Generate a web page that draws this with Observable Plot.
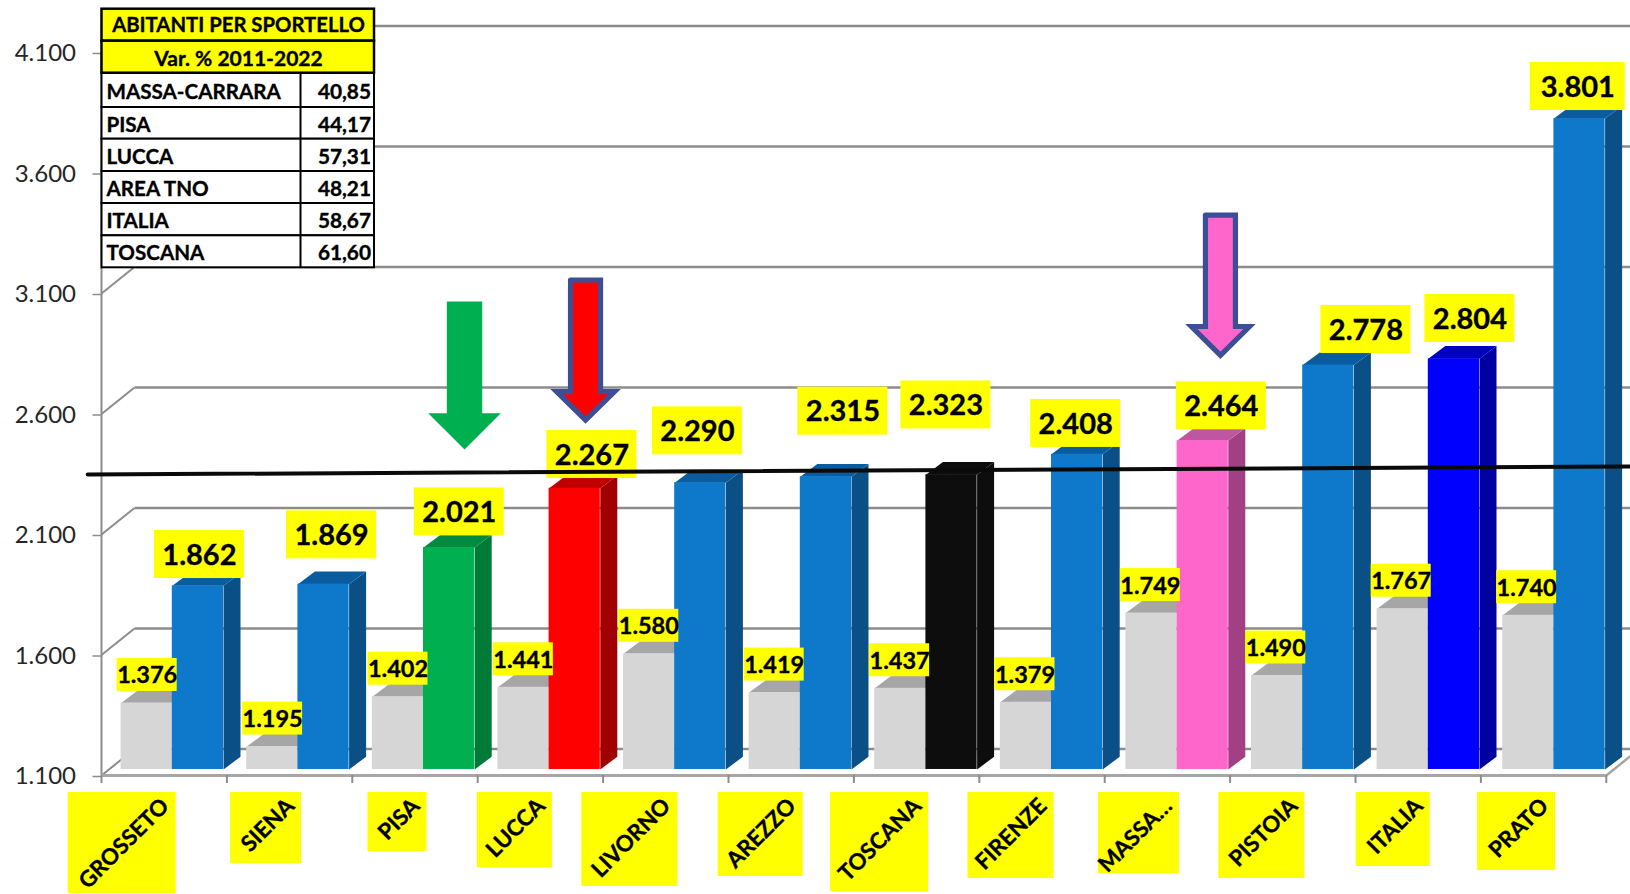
<!DOCTYPE html>
<html><head><meta charset="utf-8">
<script src="https://cdn.jsdelivr.net/npm/d3@7"></script>
<script src="https://cdn.jsdelivr.net/npm/@observablehq/plot@0.6"></script>
<style>html,body{margin:0;padding:0;background:#fff;overflow:hidden}svg{display:block}</style>
</head><body><div id="c"></div>
<script>
// ---- data ----
const categories = ["GROSSETO","SIENA","PISA","LUCCA","LIVORNO","AREZZO","TOSCANA","FIRENZE","MASSA…","PISTOIA","ITALIA","PRATO"];
const values2011 = [1376,1195,1402,1441,1580,1419,1437,1379,1749,1490,1767,1740];
const values2022 = [1862,1869,2021,2267,2290,2315,2323,2408,2464,2778,2804,3801];
const yTicks = [1100,1600,2100,2600,3100,3600,4100];
const tableTitle = "ABITANTI PER SPORTELLO";
const tableSubtitle = "Var. % 2011-2022";
const tableNames = ["MASSA-CARRARA","PISA","LUCCA","AREA TNO","ITALIA","TOSCANA"];
const tableValues = ["40,85","44,17","57,31","48,21","58,67","61,60"];
const refLineX = [-0.11, 12.193];
const refLineV = [2349, 2382];

// ---- per-bar styling ----
const blue = ["#0e78ca","#0a4f85","#0b5c9e"];
const palette = {GREEN:["#00b050","#007a37","#008a3f"],RED:["#ff0000","#a00000","#c00000"],BLACK:["#0d0d0d","#0d0d0d","#0d0d0d"],PINK:["#ff66cc","#a34085","#c055a0"],BLUE:["#0000ff","#0000a0","#0000c0"]};
const barStyle = [blue,blue,palette.GREEN,palette.RED,blue,blue,palette.BLACK,blue,palette.PINK,blue,palette.BLUE,blue];
const gray = ["#d6d6d6","#bbbbbb","#a6a6a6"];
const labelShiftX = [1.5,8.2,10.6,17.8,-2.1,18,-4.4,0,20.2,39.4,18,0.5];
const labelShiftY = [-31.3,-49.3,-35.6,-33.7,-51.8,-65.5,-69.8,-30.8,-34.9,-35.6,-40.3,-32];
const labelHalfW = [45,45,45,45,45,45,45,45,45,45,45,47.5];
const axisBoxW = [108,71,59,75,96,85,98,86,81,86,74,78];
const axisBoxH = [101,71,59,75,94,84,99,86,81,86,74,78];

// ---- layout: pixels per unit of the two scales ----
const PX = 125.4, PV = 0.241;
const W = 1630, H = 894, ML = 101, AXIS = 775;
const ux = p => p / PX, uv = p => p / PV;       // px lengths -> scale units
const X = p => (p - ML) / PX, V = p => 1100 + (AXIS - p) / PV; // px -> scale values
const xMax = X(W);
const vMax = V(0);
const fmt = d => String(d).replace(/(\d)(\d{3})$/, "$1.$2");
const BASE = 25, barW = ux(51.2), grayOff = ux(19.6), depthX = ux(17), depthV = uv(12.7);
const barPeriod = 125.6 / PX;
const wallX = ux(33), wallV = 110;

// bars
const bars = [];
categories.forEach((c,i)=>{
  bars.push({i,x1:i*barPeriod+grayOff,nom:i+grayOff+barW/2,v:values2011[i],st:gray,kind:"g"});
  bars.push({i,x1:i*barPeriod+grayOff+barW,nom:i+grayOff+barW*1.5,v:values2022[i],st:barStyle[i],kind:"b"});
});
bars.forEach((b,k)=>{b.id=k;b.x2=b.x1+barW;b.top=b.v+BASE;b.bot=1100+BASE;});
const faces = bars.flatMap(b=>[
  ...[[b.x2,b.bot],[b.x2+depthX,b.bot+depthV],[b.x2+depthX,b.top+depthV],[b.x2,b.top]].map(p=>({x:p[0],y:p[1],z:b.id+"s",c:b.st[1]})),
  ...[[b.x1,b.top],[b.x2,b.top],[b.x2+depthX,b.top+depthV],[b.x1+depthX,b.top+depthV]].map(p=>({x:p[0],y:p[1],z:b.id+"t",c:b.st[2]}))
]);

// arrows (centre, top, shoulder, tip on the scales; half widths in px)
const arrows = [
 {x:2.895,top:3067,wing:2603,tip:2453,s:17.7,w:36.3,fill:"#00b050",stroke:"none"},
 {x:3.86,top:3156,wing:2693,tip:2575,s:15,w:29,fill:"#ff0000",stroke:"#3b4e96"},
 {x:8.923,top:3425,wing:2963,tip:2843,s:15,w:29,fill:"#ff66cc",stroke:"#3b4e96"}
];
const arrowPts = a => [[-a.s,a.top],[a.s,a.top],[a.s,a.wing],[a.w,a.wing],[0,a.tip],[-a.w,a.wing],[-a.s,a.wing]]
  .map(p=>({x:a.x+ux(p[0]),y:p[1]}));

// value labels
const blueLabels = bars.filter(b=>b.kind==="b").map(b=>({t:fmt(b.v),
  x:b.nom+ux(labelShiftX[b.i]), y:b.top-uv(labelShiftY[b.i]), w:ux(labelHalfW[b.i]), h:uv(24)}));
const grayLabels = bars.filter(b=>b.kind==="g").map(b=>({t:fmt(b.v),
  x:b.nom+ux(.5), y:b.top+uv(28), w:ux(30), h:uv(16.5)}));
const box = (data)=>Plot.rect(data,{x1:d=>d.x-d.w,x2:d=>d.x+d.w,y1:d=>d.y-d.h,y2:d=>d.y+d.h,fill:"#ffff00"});

// category labels
const axisBoxes = categories.map((c,i)=>({t:c,r:i+.5+ux(12),w:ux(axisBoxW[i]),t0:V(792),b:V(792+axisBoxH[i])}));

// table
const tb = {x1:X(101.5),x2:X(374),xd:X(300),xL:X(106),xR:X(370.5),xC:X(238)};
const rowEdges = [8.7,40.7,72.7,107,138.7,171,203,235.3,267.3];
const tableCells = rowEdges.slice(0,-1).map((e,k)=>({y2:V(e),y1:V(rowEdges[k+1]),fill:k<2?"#ffff00":"#ffffff"}));
const headerY = (k,n) => V((rowEdges[k]+rowEdges[k+1])/2+n);
const rowData = tableNames.map((n,k)=>({n,v:tableValues[k],y:headerY(k+2,2)}));

const gridC = "#8c8c8c";
const poly = (data,opts)=>Plot.line(data,{x:"x",y:"y",...opts});
const bold = {fontWeight:700,fill:"#000",stroke:"#000",strokeWidth:.35,lineAnchor:"middle"};

const plot = Plot.plot({
  width:W,height:H,marginLeft:ML,marginRight:0,marginTop:0,marginBottom:H-AXIS,
  x:{domain:[0,xMax],axis:null},
  y:{domain:[1100,vMax],axis:null},
  color:{type:"identity"},
  style:{fontFamily:"Lato",background:"#fff",overflow:"hidden"},
  marks:[
    // walls
    Plot.link(yTicks,{x1:wallX,x2:xMax,y1:d=>d+wallV,y2:d=>d+wallV,stroke:gridC,strokeWidth:2.3}),
    Plot.link(yTicks,{x1:0,x2:wallX,y1:d=>d,y2:d=>d+wallV,stroke:gridC,strokeWidth:2}),
    Plot.link([0],{x1:12,x2:xMax,y1:1100,y2:1100+wallV*(xMax-12)/wallX,stroke:"#a6a6a6",strokeWidth:2.5}),
    Plot.ruleX([0],{y1:1100,y2:4100,stroke:gridC,strokeWidth:2}),
    Plot.ruleY([1100],{x1:0,x2:12,stroke:"#a6a6a6",strokeWidth:3}),
    Plot.axisX(d3.range(0,13),{anchor:"bottom",tickSize:8,tickFormat:()=>"",label:null,stroke:gridC,strokeWidth:2}),
    Plot.axisY(yTicks,{anchor:"left",tickSize:8.5,tickPadding:17,fontSize:24,dy:1,tickFormat:fmt,label:null,stroke:gridC,strokeWidth:1.5,color:"#262626"}),
    // bars
    poly(faces,{z:"z",fill:"c",stroke:null}),
    Plot.rect(bars,{x1:"x1",x2:"x2",y1:"bot",y2:"top",fill:d=>d.st[0]}),
    // arrows
    ...arrows.map(a=>poly(arrowPts(a).concat(arrowPts(a).slice(0,1)),{fill:a.fill,stroke:a.stroke,strokeWidth:5.2,strokeLinejoin:"miter",strokeMiterlimit:6})),
    // value labels
    box(grayLabels),box(blueLabels),
    Plot.text(grayLabels,{x:"x",y:"y",dy:1,text:"t",fontSize:23.5,...bold}),
    Plot.text(blueLabels,{x:"x",y:"y",dy:1,text:"t",fontSize:29,...bold}),
    // reference line
    Plot.line(refLineX.map((x,k)=>({x,y:refLineV[k]})),{x:"x",y:"y",stroke:"#0a0a0a",strokeWidth:4}),
    // category labels
    Plot.rect(axisBoxes,{x1:d=>d.r-d.w,x2:"r",y1:"b",y2:"t0",fill:"#ffff00"}),
    Plot.text(axisBoxes,{x:"r",y:V(796),dx:-11,dy:6,text:"t",rotate:-45,textAnchor:"end",fontSize:22.3,...bold}),
    // table
    Plot.rect(tableCells.slice(2),{x1:tb.x1,x2:tb.x2,y1:"y1",y2:"y2",fill:"fill",stroke:"#000",strokeWidth:2}),
    Plot.rect(tableCells.slice(0,2),{x1:tb.x1,x2:tb.x2,y1:"y1",y2:"y2",fill:"fill",stroke:"#000",strokeWidth:2.5}),
    Plot.ruleX([tb.xd],{y1:V(72.7),y2:V(267.3),stroke:"#000",strokeWidth:2}),
    Plot.text([tableTitle],{x:tb.xC,y:headerY(0,.5),text:d=>d,fontSize:20.3,...bold}),
    Plot.text([tableSubtitle],{x:tb.xC,y:headerY(1,2),text:d=>d,fontSize:21,...bold}),
    Plot.text(rowData,{x:tb.xL,y:"y",text:"n",textAnchor:"start",fontSize:20.6,...bold}),
    Plot.text(rowData,{x:tb.xR,y:"y",text:"v",textAnchor:"end",fontSize:20.8,...bold})
  ]
});
document.getElementById("c").appendChild(plot);
</script></body></html>
